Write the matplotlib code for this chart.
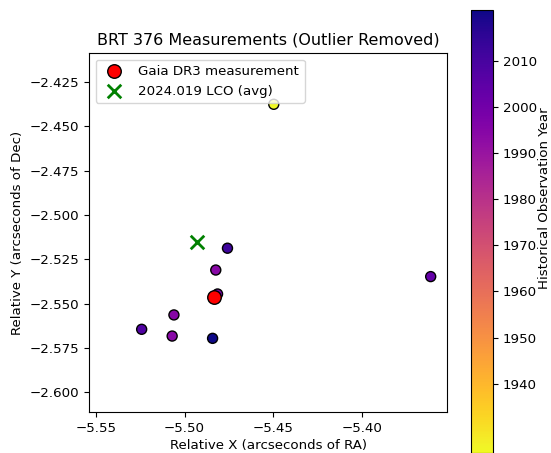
import matplotlib
matplotlib.use("Agg")
import matplotlib.pyplot as plt
import numpy as np

# Historical measurements (relative position, arcsec) and observation years
hist_x = [-5.4497, -5.4758, -5.4824, -5.4814, -5.3612, -5.5060, -5.5242, -5.5070, -5.4842]
hist_y = [-2.4376, -2.5187, -2.5310, -2.5445, -2.5347, -2.5563, -2.5644, -2.5682, -2.5695]
hist_year = [1925.0, 2012.0, 1994.0, 1998.0, 2003.0, 1995.0, 2008.0, 1994.0, 2021.0]

gaia_x, gaia_y = -5.4833, -2.5464
lco_x, lco_y = -5.4932, -2.5150

year_ticks = [1940, 1950, 1960, 1970, 1980, 1990, 2000, 2010]

plt.rcParams["font.size"] = 9.6

fig = plt.figure(figsize=(5.51, 4.53), dpi=100)
ax = fig.add_axes([89/551, 41/453, 358/551, 359/453])
cax = fig.add_axes([471/551, 0.0, 22/551, 443/453])

sc = ax.scatter(hist_x, hist_y, c=hist_year, cmap="plasma_r",
                vmin=min(hist_year), vmax=max(hist_year),
                s=52, edgecolors="black", linewidths=1, zorder=2)
ax.scatter(gaia_x, gaia_y, s=95, color="red", edgecolors="black",
           linewidths=1, label="Gaia DR3 measurement", zorder=3)
ax.scatter(lco_x, lco_y, s=95, color="green", marker="x",
           linewidths=2, label="2024.019 LCO (avg)", zorder=3)

ax.set_xlim(-5.5539, -5.352)
ax.set_ylim(-2.611, -2.4087)
ax.set_xticks([-5.55, -5.50, -5.45, -5.40])
ax.set_yticks(np.round(np.arange(-2.600, -2.42, 0.025), 3))
ax.set_xlabel("Relative X (arcseconds of RA)", labelpad=3)
ax.set_ylabel("Relative Y (arcseconds of Dec)")
ax.set_title("BRT 376 Measurements (Outlier Removed)")
ax.legend(loc="upper left")

cb = fig.colorbar(sc, cax=cax, ticks=year_ticks)
cb.set_label("Historical Observation Year")
cb.ax.yaxis.set_label_coords(3.05, 0.575)

plt.savefig("out.png", dpi=100)
